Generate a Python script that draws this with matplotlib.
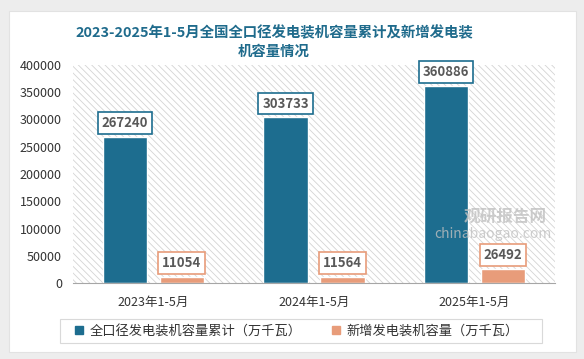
import matplotlib
matplotlib.use('Agg')
import matplotlib.pyplot as plt
import numpy as np
from matplotlib.patches import Rectangle
from matplotlib.lines import Line2D

plt.rcParams['font.family'] = ['Noto Sans CJK SC', 'DejaVu Sans']
plt.rcParams['hatch.color'] = '#d4d4d4'
plt.rcParams['hatch.linewidth'] = 0.6

# data
categories = ['2023年1-5月', '2024年1-5月', '2025年1-5月']
total_capacity = [267240, 303733, 360886]
new_capacity = [11054, 11564, 26492]
series_names = ['全口径发电装机容量累计（万千瓦）', '新增发电装机容量（万千瓦）']
title = '2023-2025年1-5月全国全口径发电装机容量累计及新增发电装\n机容量情况'

BLUE = '#1d6d8f'
ORANGE = '#e89c7a'

fig = plt.figure(figsize=(5.84, 3.59), dpi=100)
fig.patch.set_facecolor('#ededed')
# white card
card = Rectangle((9 / 584, 7 / 359), 567 / 584, 341 / 359, transform=fig.transFigure,
                 facecolor='white', edgecolor='#e2e2e2', lw=0.8, zorder=-5)
fig.add_artist(card)

ax = fig.add_axes([73 / 584, 76 / 359, 482 / 584, 218 / 359])
ax.set_facecolor('none')
x = np.arange(len(categories))
ax.set_xlim(-0.5, 2.5)
ax.set_ylim(0, 400000)

# hatched plot background
ax.add_patch(Rectangle((0, 0), 1, 1, transform=ax.transAxes, facecolor='white',
                       edgecolor='#d4d4d4', hatch='\\\\\\\\\\', lw=0, zorder=0))

w = 0.275
off = 0.177
b1 = ax.bar(x - off, total_capacity, w, color=BLUE, edgecolor='white', lw=1, zorder=2)
b2 = ax.bar(x + off, new_capacity, w, color=ORANGE, edgecolor='white', lw=1, zorder=2)

for bars, vals, c in [(b1, total_capacity, BLUE), (b2, new_capacity, ORANGE)]:
    for r, v in zip(bars, vals):
        ax.annotate(str(v), (r.get_x() + r.get_width() / 2, v), xytext=(0, 5),
                    textcoords='offset points', ha='center', va='bottom',
                    fontsize=9.5, fontweight='bold', color='#595959', zorder=4,
                    bbox=dict(boxstyle='square,pad=0.3', fc='white', ec=c, lw=1.2))

ax.set_yticks(np.arange(0, 400001, 50000))
ax.set_xticks(x)
ax.set_xticklabels(categories, fontsize=9, color='#333333')
ax.tick_params(axis='y', length=0, labelsize=9, labelcolor='#333333', pad=8)
ax.tick_params(axis='x', length=0, pad=9)
for s in ['top', 'right', 'left']:
    ax.spines[s].set_visible(False)
ax.spines['bottom'].set_color('#a6a6a6')

# watermark
fig.text(493 / 584, 1 - 234 / 359, 'chinabaogao.com', fontsize=10, color='#c0c0c0',
         ha='center', va='center', alpha=0.8, zorder=5)
fig.text(505 / 584, 1 - 217 / 359, '观研报告网', fontsize=12, fontweight='bold', color='#c0c0c0',
         ha='center', va='center', alpha=0.8, zorder=5)

fig.text(274 / 584, 1 - 42 / 359, title, ha='center', va='center', fontsize=10.4,
         fontweight='bold', color='#1f6b8c', linespacing=1.45)

# legend frame + legend
fig.add_artist(Rectangle((60 / 584, 1 - 343 / 359), 482 / 584, 24 / 359,
                         transform=fig.transFigure, facecolor='white',
                         edgecolor='#d9d9d9', lw=0.8, zorder=3))
handles = [Line2D([], [], marker='s', ls='none', color=BLUE, markersize=6),
           Line2D([], [], marker='s', ls='none', color=ORANGE, markersize=6)]
leg = fig.legend(handles, series_names, loc='center left', ncol=2,
                 bbox_to_anchor=(62 / 584, 1 - 331 / 359), frameon=False,
                 fontsize=9.5, handletextpad=0.2, columnspacing=2.0,
                 borderpad=0.2, handlelength=1.2)
leg.set_zorder(4)
for t in leg.get_texts():
    t.set_color('#333333')

fig.savefig('out.png', dpi=100)
